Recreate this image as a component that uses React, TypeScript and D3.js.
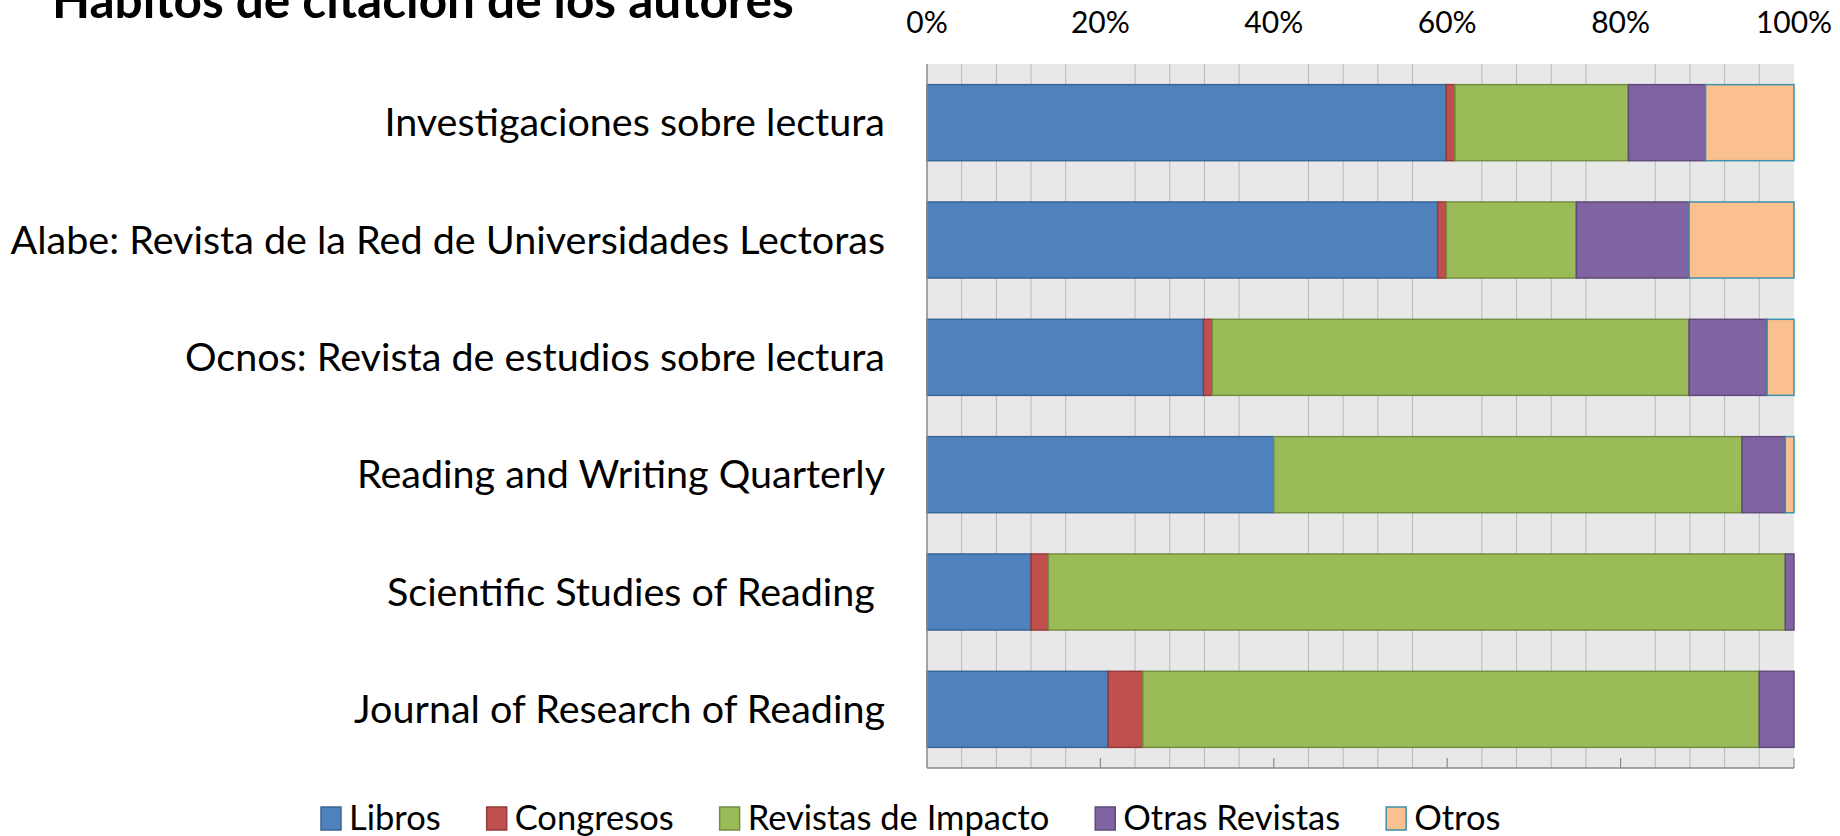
import React, { useEffect, useRef } from "react";
import * as d3 from "d3";

// journals, top to bottom
const categories = [
  "Investigaciones sobre lectura",
  "Alabe: Revista de la Red de Universidades Lectoras",
  "Ocnos: Revista de estudios sobre lectura",
  "Reading and Writing Quarterly",
  "Scientific Studies of Reading ",
  "Journal of Research of Reading",
];

const seriesNames = ["Libros", "Congresos", "Revistas de Impacto", "Otras Revistas", "Otros"];

// share of citations (%) per journal
const libros = [59.9, 58.9, 31.9, 40.0, 12.0, 20.9];
const congresos = [1.0, 1.0, 1.0, 0, 2.0, 4.0];
const revistasImpacto = [20.0, 15.0, 55.0, 54.0, 85.0, 71.1];
const otrasRevistas = [8.9, 13.0, 9.0, 5.0, 1.0, 4.0];
const otros = [10.2, 12.1, 3.1, 1.0, 0, 0];

const tickValues = [0, 20, 40, 60, 80, 100];

const fills = ["#4f81bd", "#c0504d", "#9bbb59", "#8064a2", "#fac090"];
const strokes = ["#3a6496", "#943b39", "#748e42", "#5e4a7a", "#3b91ab"];

const FONT = "Lato, 'Open Sans', sans-serif";

const App = () => {
  const chartRef = useRef<SVGSVGElement>(null);

  useEffect(() => {
    document.body.style.margin = "0";
    drawChart();
  }, []);

  const drawChart = () => {
    const svg = d3.select(chartRef.current);
    svg.selectAll("*").remove();

    const left = 927;
    const right = 1794;
    const top = 64;
    const bottom = 768;

    const rows = categories.map((c, i) => ({
      name: c,
      Libros: libros[i],
      Congresos: congresos[i],
      "Revistas de Impacto": revistasImpacto[i],
      "Otras Revistas": otrasRevistas[i],
      Otros: otros[i],
    }));

    const x = d3.scaleLinear().domain([0, 100]).range([left, right]);
    const y = d3.scaleBand()
      .domain(categories)
      .range([top, bottom])
      .paddingInner(0.352)
      .paddingOuter(0.176);

    // title (sits partly above the top edge, as in the original)
    svg.append("text")
      .attr("x", 52)
      .attr("y", 18)
      .attr("font-family", FONT)
      .attr("font-weight", "bold")
      .attr("font-size", 49.5)
      .attr("fill", "#000")
      .text("Hábitos de citación de los autores");

    // plot background
    svg.append("rect")
      .attr("x", left)
      .attr("y", top)
      .attr("width", right - left)
      .attr("height", bottom - top)
      .attr("fill", "#e8e8e8");

    // minor gridlines (every 4%, skipping the labelled ones)
    const minor = d3.range(4, 100, 4).filter(v => v % 20 !== 0);
    svg.append("g")
      .selectAll("line")
      .data(minor)
      .enter().append("line")
      .attr("x1", d => x(d))
      .attr("x2", d => x(d))
      .attr("y1", top)
      .attr("y2", bottom)
      .attr("stroke", "#b9b9b9")
      .attr("stroke-width", 1);

    // stacked bars
    const stack = d3.stack().keys(seriesNames);
    const layers = stack(rows as any);

    layers.forEach((layer, si) => {
      svg.append("g")
        .selectAll("rect")
        .data(layer.filter(d => d[1] - d[0] > 0))
        .enter().append("rect")
        .attr("x", d => x(d[0]))
        .attr("y", d => y((d.data as any).name)!)
        .attr("width", d => x(d[1]) - x(d[0]))
        .attr("height", y.bandwidth())
        .attr("fill", fills[si])
        .attr("stroke", strokes[si])
        .attr("stroke-width", 1.5);
    });

    // axis lines
    svg.append("line")
      .attr("x1", left).attr("x2", left)
      .attr("y1", top).attr("y2", bottom)
      .attr("stroke", "#8a8a8a").attr("stroke-width", 1.5);
    svg.append("line")
      .attr("x1", left).attr("x2", right)
      .attr("y1", bottom).attr("y2", bottom)
      .attr("stroke", "#8a8a8a").attr("stroke-width", 1.5);

    // small tick marks on the bottom axis
    svg.append("g")
      .selectAll("line")
      .data(tickValues.slice(1))
      .enter().append("line")
      .attr("x1", d => x(d))
      .attr("x2", d => x(d))
      .attr("y1", bottom - 10)
      .attr("y2", bottom)
      .attr("stroke", "#8a8a8a")
      .attr("stroke-width", 1.2);

    // top tick labels
    svg.append("g")
      .selectAll("text")
      .data(tickValues)
      .enter().append("text")
      .attr("x", d => x(d))
      .attr("y", 33)
      .attr("text-anchor", "middle")
      .attr("font-family", FONT)
      .attr("font-size", 30)
      .attr("fill", "#000")
      .text(d => d + "%");

    // category labels
    svg.append("g")
      .selectAll("text")
      .data(categories)
      .enter().append("text")
      .attr("x", 885)
      .attr("y", d => y(d)! + y.bandwidth() / 2)
      .attr("dy", "0.35em")
      .attr("text-anchor", "end")
      .attr("font-family", FONT)
      .attr("font-size", 39.5)
      .attr("fill", "#000")
      .style("white-space", "pre")
      .text(d => d);

    // legend
    const legend = svg.append("g");
    const items = legend.selectAll("g")
      .data(seriesNames)
      .enter().append("g");
    items.append("rect")
      .attr("width", 20)
      .attr("height", 23)
      .attr("y", -23)
      .attr("fill", (d, i) => fills[i])
      .attr("stroke", (d, i) => strokes[i])
      .attr("stroke-width", 1.5);
    items.append("text")
      .attr("x", 28)
      .attr("y", 0)
      .attr("font-family", FONT)
      .attr("font-size", 34.5)
      .attr("fill", "#000")
      .text(d => d);

    let cursor = 321;
    items.each(function () {
      const g = d3.select(this);
      const w = (g.select("text").node() as SVGTextElement).getComputedTextLength();
      g.attr("transform", `translate(${cursor}, 830)`);
      cursor += 28 + w + 46;
    });
  };

  return <svg ref={chartRef} width={1840} height={836} style={{ display: "block" }} />;
};

export default App;
